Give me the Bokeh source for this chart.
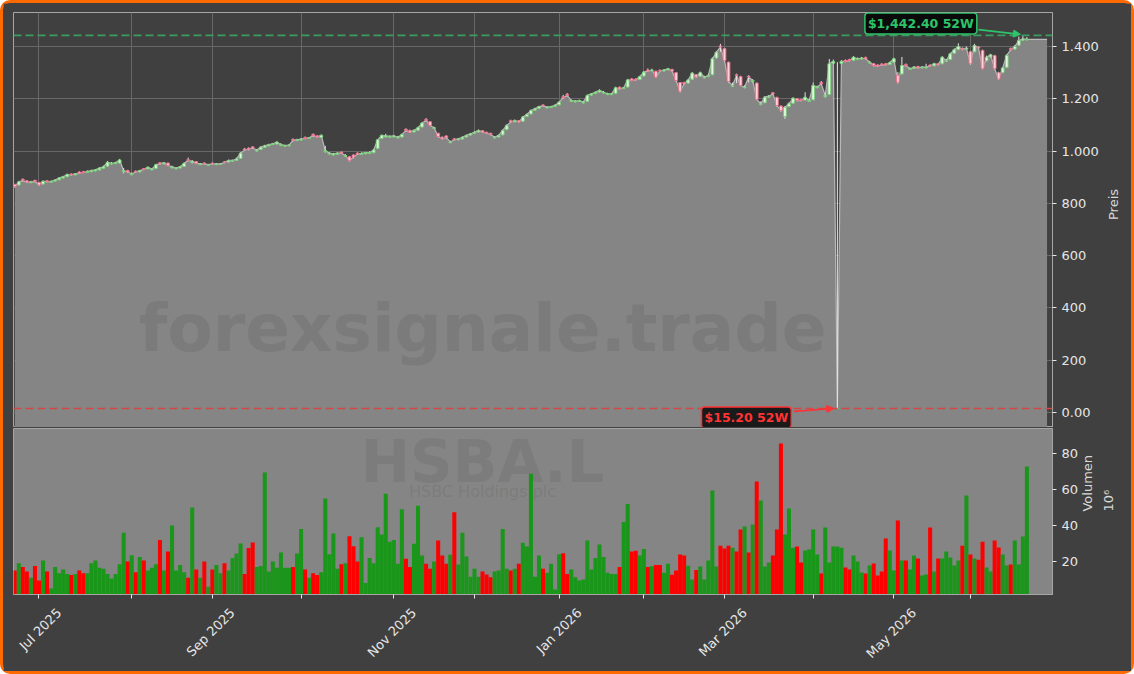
import math
import pandas as pd
from bokeh.plotting import figure
from bokeh.layouts import column
from bokeh.models import Range1d, FixedTicker, LinearAxis, Span, Label, Arrow, NormalHead
from bokeh.embed import file_html
from bokeh.resources import INLINE
from bokeh.core.properties import value

# ---------------- data ----------------
ticker_symbol = "HSBA.L"
company_name = "HSBC Holdings plc"
watermark_text = "forexsignale.trade"
price_axis_label = "Preis"
volume_axis_label = "Volumen"
volume_unit_label = "10\u2076"

start_date = "2025-06-23"
end_date = "2026-06-19"
lse_holidays = ["2025-08-25", "2025-12-25", "2025-12-26", "2026-01-01",
                "2026-04-03", "2026-04-06", "2026-05-04", "2026-05-25"]

opens = [
    872, 870, 892, 886, 879, 888, 880, 874, 886, 881,
    885, 890, 897, 902, 912, 909, 920, 921, 918, 921,
    924, 928, 934, 942, 951, 952, 954, 921, 926, 910,
    923, 920, 933, 932, 928, 933, 955, 951, 954, 936,
    932, 935, 941, 967, 955, 960, 948, 954, 946, 954,
    948, 949, 959, 958, 961, 964, 972, 1008, 1011, 1016,
    1000, 1006, 1014, 1020, 1025, 1027, 1021, 1018, 1020, 1045,
    1040, 1042, 1052, 1048, 1064, 1058, 1052, 998, 989, 985,
    988, 996, 980, 978, 985, 992, 987, 990, 991, 994,
    1010, 1048, 1054, 1053, 1054, 1050, 1054, 1083, 1079, 1073,
    1080, 1092, 1121, 1112, 1086, 1068, 1053, 1058, 1032, 1047,
    1043, 1046, 1054, 1061, 1067, 1073, 1078, 1072, 1068, 1050,
    1054, 1062, 1082, 1116, 1112, 1116, 1114, 1132, 1142, 1156,
    1163, 1176, 1165, 1167, 1171, 1177, 1208, 1217, 1190, 1188,
    1190, 1184, 1190, 1214, 1220, 1226, 1222, 1216, 1216, 1221,
    1244, 1239, 1245, 1276, 1275, 1274, 1287, 1310, 1307, 1305,
    1309, 1306, 1311, 1312, 1300, 1262, 1262, 1260, 1275, 1292,
    1286, 1280, 1285, 1292, 1356, 1402, 1392, 1340, 1248, 1292,
    1285, 1242, 1286, 1266, 1260, 1178, 1185, 1206, 1223, 1205,
    1172, 1132, 1170, 1183, 1200, 1197, 1195, 1190, 1196, 1242,
    1262, 1208, 1216, 1336, 15.2, 1335, 1347, 1350, 1347, 1350,
    1352, 1358, 1337, 1334, 1329, 1333, 1334, 1331, 1340, 1290,
    1295, 1331, 1312, 1316, 1323, 1318, 1318, 1329, 1326, 1334,
    1334, 1343, 1350, 1374, 1388, 1393, 1390, 1380, 1380, 1398,
    1385, 1345, 1360, 1365, 1300, 1300, 1320, 1392, 1390, 1405,
    1424, 1425,
]
highs = [
    875, 886, 895, 889, 886, 890, 882, 888, 889, 887,
    892, 900, 905, 914, 915, 916, 923, 924, 926, 929,
    931, 938, 944, 962, 958, 959, 970, 935, 928, 918,
    926, 928, 935, 941, 934, 951, 958, 958, 956, 944,
    938, 943, 956, 975, 966, 962, 954, 957, 951, 956,
    954, 954, 962, 967, 967, 975, 996, 1012, 1014, 1019,
    1008, 1018, 1024, 1028, 1031, 1038, 1030, 1025, 1026, 1048,
    1047, 1050, 1056, 1054, 1067, 1061, 1064, 1020, 996, 993,
    995, 998, 988, 980, 987, 995, 995, 997, 999, 1008,
    1046, 1063, 1066, 1060, 1062, 1058, 1067, 1087, 1082, 1083,
    1093, 1110, 1126, 1114, 1093, 1070, 1056, 1060, 1040, 1050,
    1050, 1056, 1063, 1069, 1075, 1082, 1080, 1074, 1070, 1057,
    1063, 1082, 1102, 1120, 1121, 1119, 1134, 1144, 1159, 1166,
    1173, 1179, 1172, 1173, 1179, 1190, 1215, 1222, 1198, 1195,
    1197, 1192, 1216, 1222, 1228, 1236, 1230, 1223, 1222, 1246,
    1247, 1245, 1276, 1279, 1278, 1288, 1306, 1316, 1315, 1308,
    1312, 1314, 1318, 1315, 1302, 1264, 1265, 1276, 1302, 1295,
    1304, 1288, 1294, 1358, 1382, 1410, 1395, 1342, 1262, 1296,
    1288, 1252, 1290, 1275, 1262, 1190, 1210, 1214, 1226, 1208,
    1175, 1172, 1186, 1206, 1203, 1200, 1225, 1198, 1262, 1250,
    1268, 1222, 1352, 1350, 1340, 1348, 1350, 1353, 1363, 1358,
    1360, 1361, 1345, 1337, 1332, 1336, 1337, 1342, 1357, 1302,
    1360, 1335, 1320, 1325, 1326, 1325, 1334, 1332, 1338, 1337,
    1363, 1352, 1376, 1392, 1412, 1396, 1400, 1383, 1410, 1401,
    1388, 1365, 1372, 1368, 1303, 1322, 1370, 1396, 1405, 1438,
    1442.4, 1436,
]
lows = [
    860, 868, 884, 877, 877, 880, 867, 872, 880, 879,
    883, 888, 895, 900, 906, 907, 912, 915, 916, 919,
    922, 926, 932, 940, 948, 950, 952, 915, 916, 907,
    917, 918, 927, 930, 926, 931, 948, 949, 942, 933,
    930, 933, 939, 961, 953, 950, 946, 948, 944, 948,
    946, 947, 953, 956, 959, 962, 970, 1000, 1003, 1008,
    998, 1004, 1012, 1018, 1023, 1025, 1019, 1016, 1018, 1037,
    1038, 1040, 1045, 1046, 1055, 1051, 1050, 994, 986, 983,
    986, 989, 978, 960, 972, 985, 985, 988, 989, 992,
    1008, 1046, 1052, 1051, 1052, 1048, 1052, 1075, 1069, 1071,
    1078, 1090, 1113, 1095, 1084, 1052, 1044, 1048, 1030, 1040,
    1041, 1044, 1052, 1059, 1065, 1071, 1069, 1065, 1060, 1048,
    1052, 1060, 1080, 1107, 1110, 1108, 1112, 1130, 1140, 1154,
    1161, 1170, 1163, 1165, 1169, 1175, 1200, 1209, 1188, 1186,
    1188, 1182, 1188, 1212, 1218, 1224, 1220, 1214, 1214, 1219,
    1235, 1237, 1243, 1267, 1269, 1272, 1285, 1303, 1305, 1280,
    1303, 1304, 1309, 1303, 1266, 1224, 1254, 1258, 1273, 1280,
    1284, 1278, 1283, 1290, 1354, 1380, 1342, 1262, 1245, 1260,
    1248, 1240, 1262, 1262, 1195, 1175, 1183, 1203, 1215, 1170,
    1150, 1123, 1168, 1181, 1190, 1190, 1193, 1188, 1194, 1240,
    1253, 1205, 1214, 1333, 15.2, 1332, 1340, 1343, 1345, 1348,
    1350, 1350, 1335, 1324, 1322, 1327, 1327, 1329, 1338, 1258,
    1293, 1324, 1310, 1314, 1315, 1316, 1316, 1322, 1324, 1327,
    1332, 1341, 1348, 1372, 1386, 1385, 1388, 1330, 1378, 1391,
    1312, 1343, 1357, 1312, 1272, 1298, 1318, 1384, 1388, 1403,
    1422, 1423,
]
closes = [
    864, 882, 887, 880, 882, 883, 870, 884, 883, 884,
    889, 897, 902, 910, 909, 913, 915, 918, 922, 925,
    928, 935, 940, 957, 953, 955, 966, 925, 920, 913,
    920, 925, 930, 938, 931, 948, 951, 955, 945, 940,
    935, 940, 953, 964, 961, 953, 951, 951, 948, 951,
    951, 951, 956, 964, 964, 970, 992, 1004, 1007, 1012,
    1004, 1015, 1020, 1025, 1028, 1034, 1025, 1021, 1023, 1041,
    1043, 1046, 1048, 1051, 1059, 1054, 1060, 1002, 992, 989,
    992, 992, 983, 964, 977, 989, 991, 994, 994, 1004,
    1043, 1060, 1058, 1056, 1058, 1053, 1063, 1079, 1072, 1079,
    1089, 1107, 1117, 1098, 1089, 1056, 1047, 1051, 1035, 1043,
    1047, 1053, 1060, 1066, 1072, 1079, 1072, 1068, 1063, 1053,
    1060, 1079, 1098, 1111, 1117, 1111, 1130, 1140, 1155, 1162,
    1170, 1173, 1168, 1170, 1175, 1187, 1204, 1213, 1193, 1191,
    1193, 1187, 1213, 1219, 1225, 1232, 1225, 1219, 1219, 1242,
    1238, 1242, 1272, 1270, 1272, 1285, 1302, 1306, 1310, 1283,
    1306, 1310, 1315, 1306, 1270, 1229, 1257, 1272, 1298, 1283,
    1300, 1283, 1289, 1353, 1378, 1398, 1346, 1266, 1251, 1289,
    1251, 1245, 1283, 1270, 1198, 1181, 1206, 1210, 1219, 1174,
    1155, 1168, 1181, 1202, 1193, 1193, 1206, 1193, 1251, 1245,
    1257, 1213, 1334, 1343, 15.2, 1343, 1343, 1346, 1359, 1353,
    1356, 1353, 1340, 1327, 1325, 1330, 1330, 1338, 1353, 1263,
    1327, 1327, 1315, 1321, 1318, 1321, 1321, 1325, 1334, 1330,
    1359, 1346, 1372, 1388, 1400, 1388, 1394, 1334, 1404, 1394,
    1315, 1359, 1368, 1315, 1276, 1318, 1366, 1388, 1400, 1423,
    1429, 1427,
]
volumes_m = [
    15, 19, 17, 14.5, 11, 17.5, 9.5, 20.5, 14.5, 5,
    17, 13.5, 15.5, 13, 12.5, 13, 15, 13.5, 13.5, 19,
    20.5, 16.5, 16, 13, 10.5, 13, 18.5, 36, 20, 23.5,
    14, 22.5, 20.5, 15, 16.5, 18.5, 32, 15, 25.5, 40,
    15, 18, 14, 11, 50, 15.5, 11, 20, 6, 15.5,
    18, 13.5, 19, 15, 22, 24.5, 30, 13, 27.5, 30.5,
    17, 17.5, 69.5, 14.5, 20, 16.5, 25, 16.5, 16.5, 17,
    24.5, 38, 15.5, 11, 13.5, 12.5, 14, 55, 24, 35.5,
    16, 18.5, 19, 34, 28.5, 20, 33.5, 8, 22, 19,
    39, 35, 57.6, 31, 32, 18.7, 49, 21.5, 17, 29.8,
    51, 23.3, 18.7, 16, 20, 31.7, 23.3, 18.7, 23.7, 47.4,
    18.3, 36, 22.8, 11.6, 16, 11.6, 14.5, 12.8, 11.3, 14.5,
    15, 38, 16, 15, 16, 18.7, 30.4, 28.4, 68.7, 11.6,
    23.3, 16, 13.8, 18.7, 4.4, 24, 24.6, 13, 15.6, 11.3,
    9.4, 10, 31.7, 15.6, 22, 29.5, 22.5, 13.8, 13.1, 13.1,
    17, 42, 52, 25.5, 26, 23.3, 27, 17, 17.4, 18,
    18, 13.8, 18.7, 12.6, 15, 23.9, 23.3, 17.7, 10, 15.3,
    17.2, 10, 20.6, 59.4, 17.2, 28.8, 27.2, 28.8, 27.7, 25.6,
    37.8, 39.5, 25, 40.6, 64.4, 53.9, 17.2, 19.4, 23.3, 37.8,
    85.6, 35, 49.4, 27.7, 28.3, 19.4, 26.1, 26.7, 37.8, 23.9,
    13.3, 38.9, 19.4, 28.3, 28.3, 27.7, 16.7, 15.6, 23.3, 20,
    13.9, 13.3, 17.8, 18.9, 12.2, 14.4, 32.8, 26.1, 15, 42.8,
    20.6, 20.6, 15.6, 23.3, 21.7, 12.2, 12.8, 38.9, 14.4, 21.7,
    21.7, 25.6, 22.2, 17.8, 20.6, 28.8, 56.7, 23.9, 21.7, 21,
    31, 16.7, 14.4, 31.7, 27.8, 23.9, 17.8, 18.3, 31.7, 18.3,
    33.9, 72.8,
]
area_pad_days = 5
price_ticks = [0, 200, 400, 600, 800, 1000, 1200, 1400]
volume_ticks = [20, 40, 60, 80]

# ---------------- derived ----------------
dates = [d for d in pd.bdate_range(start_date, end_date)
         if d.strftime("%Y-%m-%d") not in lse_holidays]
n = min(len(dates), len(opens), len(highs), len(lows), len(closes), len(volumes_m))
idx = list(range(n))
o, h, l, c, v = opens[:n], highs[:n], lows[:n], closes[:n], volumes_m[:n]
up = [c[i] >= o[i] for i in idx]

month_ticks, month_labels, prev = [], {}, None
for i, d in enumerate(dates[:n]):
    key = (d.year, d.month)
    if key != prev:
        if not (i == 0 and d.day > 7):
            month_ticks.append(i)
            month_labels[i] = d.strftime("%b %Y") if d.month % 2 == 1 else ""
        prev = key

area_x = idx + [n + k for k in range(area_pad_days)]
area_y = c + [c[-1]] * area_pad_days

hi52 = max(h)
i_hi = h.index(hi52)
lo52 = min(l)
i_lo = l.index(lo52)

FONT = "DejaVu Sans"
BG = "#404040"
AREA = "#858585"
TXT = "#e6e6e6"
FRAME = "#a6a6a6"

x_range = Range1d(-0.32, 257.35)
p_lo, p_hi = -57.4, 1530
v_lo, v_hi = 1.67, 93.9

# ---------------- price panel ----------------
p1 = figure(width=1128, height=424, x_range=x_range, y_range=Range1d(p_lo, p_hi),
            output_backend="svg", toolbar_location=None, x_axis_location=None,
            y_axis_location="right", min_border_left=10, min_border_right=77,
            min_border_top=9, min_border_bottom=0)
p1.background_fill_color = BG
p1.border_fill_color = BG
p1.outline_line_color = FRAME
p1.xgrid.ticker = FixedTicker(ticks=month_ticks)
p1.ygrid.ticker = FixedTicker(ticks=price_ticks)
p1.grid.grid_line_color = "#686868"
p1.grid.grid_line_width = 1

p1.varea(x=area_x, y1=[p_lo] * len(area_x), y2=area_y, fill_color=AREA)
p1.line(area_x, area_y, line_color="#b8b8b8", line_width=1.2)

p1.text(x=[116], y=[320], text=[watermark_text], text_font=value(FONT),
        text_font_style="bold", text_font_size="66px", text_color="#404040",
        text_alpha=0.15, text_align="center", text_baseline="middle")

p1.segment(x0=idx, y0=l, x1=idx, y1=h, line_color="#e4e4e4", line_width=1)
ui = [i for i in idx if up[i]]
di = [i for i in idx if not up[i]]
p1.vbar(x=ui, bottom=[o[i] for i in ui], top=[c[i] for i in ui], width=0.7,
        fill_color="#e2f6e2", line_color="#74cc74", line_width=0.9)
p1.vbar(x=di, bottom=[c[i] for i in di], top=[o[i] for i in di], width=0.7,
        fill_color="#ffd2da", line_color="#ea6a86", line_width=0.9)

p1.add_layout(Span(location=hi52, dimension="width", line_color="#3a9c5e",
                   line_dash="8 4", line_width=1.6))
p1.add_layout(Span(location=lo52, dimension="width", line_color="#d24848",
                   line_dash="8 4", line_width=1.4))

green = "#2ec46a"
red = "#ff3333"
p1.add_layout(Arrow(end=NormalHead(size=7, fill_color=green, line_color=green),
                    x_start=i_hi - 11, y_start=hi52 + 22, x_end=i_hi - 0.6, y_end=hi52 + 4,
                    line_color=green, line_width=1.6))
p1.add_layout(Arrow(end=NormalHead(size=7, fill_color=red, line_color=red),
                    x_start=i_lo - 10.8, y_start=lo52 - 11, x_end=i_lo - 0.9, y_end=lo52,
                    line_color=red, line_width=1.6))
p1.add_layout(Label(x=i_hi, y=hi52, x_offset=-102, y_offset=12,
                    text=f"${hi52:,.2f} 52W", text_align="center", text_baseline="middle",
                    text_font=FONT, text_font_style="bold", text_font_size="12.5px",
                    text_color=green, background_fill_color="#0b0b0b",
                    border_line_color=green, border_line_width=1.5,
                    padding=3, border_radius=3))
p1.add_layout(Label(x=i_lo, y=lo52, x_offset=-91, y_offset=-9,
                    text=f"${lo52:,.2f} 52W", text_align="center", text_baseline="middle",
                    text_font=FONT, text_font_style="bold", text_font_size="12.5px",
                    text_color=red, background_fill_color="#1a1a1a",
                    border_line_color=red, border_line_width=1.5,
                    padding=3, border_radius=3))

ya = p1.yaxis[0]
ya.ticker = FixedTicker(ticks=price_ticks)
ya.major_label_overrides = {t: ("0.00" if t == 0 else f"{t:,}".replace(",", "."))
                            for t in price_ticks}
ya.axis_label = price_axis_label


def style_axis(ax):
    ax.axis_line_color = FRAME
    ax.major_tick_line_color = TXT
    ax.major_tick_out = 4
    ax.major_tick_in = 0
    ax.minor_tick_line_color = None
    ax.major_label_text_color = TXT
    ax.major_label_text_font = FONT
    ax.major_label_text_font_size = "13px"
    ax.axis_label_text_color = "#d8d8d8"
    ax.axis_label_text_font = FONT
    ax.axis_label_text_font_size = "13px"
    ax.axis_label_text_font_style = "normal"


style_axis(ya)
ya.axis_label_standoff = 12

# ---------------- volume panel ----------------
p2 = figure(width=1128, height=244, x_range=x_range, y_range=Range1d(v_lo, v_hi),
            output_backend="svg", toolbar_location=None, y_axis_location="right",
            min_border_left=10, min_border_right=77, min_border_top=1, min_border_bottom=77)
p2.background_fill_color = AREA
p2.border_fill_color = BG
p2.outline_line_color = FRAME
p2.grid.visible = False

p2.text(x=[116], y=[75.5], text=[ticker_symbol], text_font=value(FONT),
        text_font_style="bold", text_font_size="59px", text_color="#404040",
        text_alpha=0.12, text_align="center", text_baseline="middle")
p2.text(x=[116], y=[59], text=[company_name], text_font=value(FONT),
        text_font_size="16px", text_color="#404040",
        text_alpha=0.15, text_align="center", text_baseline="middle")

p2.vbar(x=idx, top=v, bottom=0, width=1.0,
        fill_color=["#1a961a" if u else "#ff0000" for u in up],
        line_color=None)

va = p2.yaxis[0]
va.ticker = FixedTicker(ticks=volume_ticks)
va.axis_label = volume_axis_label
style_axis(va)
va.axis_label_standoff = 6

ua = LinearAxis(ticker=FixedTicker(ticks=[]), axis_label=volume_unit_label)
style_axis(ua)
ua.axis_line_color = None
ua.major_tick_out = 0
ua.axis_label_standoff = 3
p2.add_layout(ua, "right")

# month tick marks as minor ticks; labels (rotated 45 degrees) on shifted major
# ticks so that each rotated label is centred under its month tick
label_shift = 5.0
label_ticks = [t + label_shift for t in month_ticks if month_labels[t]]
xa = p2.xaxis[0]
style_axis(xa)
xa.ticker = FixedTicker(ticks=label_ticks, minor_ticks=month_ticks)
xa.major_label_overrides = {t + label_shift: month_labels[t]
                            for t in month_ticks if month_labels[t]}
xa.major_label_orientation = math.pi / 4
xa.major_tick_line_color = None
xa.major_tick_out = 4
xa.minor_tick_line_color = TXT
xa.minor_tick_out = 4
xa.minor_tick_in = 0
xa.major_label_standoff = 12

for ax in (ya, va, ua):
    try:
        ax.axis_label_orientation = math.pi / 2
    except Exception:
        pass

layout = column(p1, p2, spacing=0,
                styles={"border": "3px solid #ff6a00", "border-radius": "10px",
                        "background-color": BG})

open("out.html", "w").write(file_html(layout, INLINE))
